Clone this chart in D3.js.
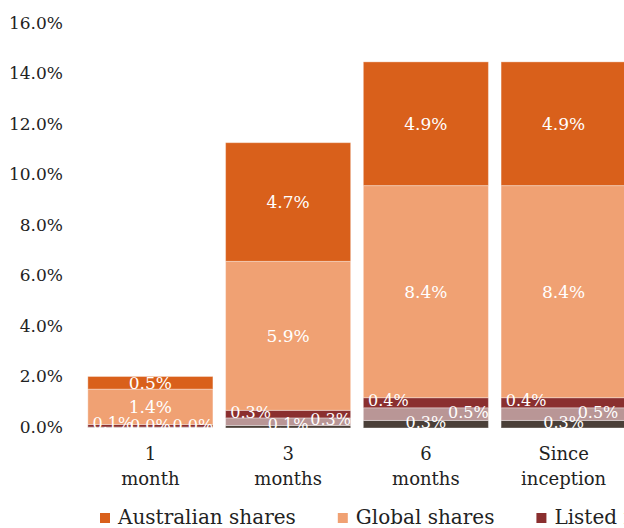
<!DOCTYPE html>
<html>
<head>
<meta charset="utf-8">
<script src="https://cdn.jsdelivr.net/npm/d3@7"></script>
<style>
  body { margin: 0; background: #fff; }
  svg { display: block; font-family: "DejaVu Serif", serif; }
</style>
</head>
<body>
<div id="chart"></div>
<script>
// periods, bottom-to-top series, values in %
const periods = ['1 month', '3 months', '6 months', 'Since inception']
const periodLines = [['1', 'month'], ['3', 'months'], ['6', 'months'], ['Since', 'inception']]
const seriesNames = ['Cash', 'Listed property', 'Listed infrastructure', 'Global shares', 'Australian shares']
const seriesColors = ['#4a3f38', '#b99696', '#8a2f2f', '#f0a173', '#d9601b']
const cash = [0.02, 0.1, 0.3, 0.3]
const listedProperty = [0.02, 0.3, 0.5, 0.5]
const listedInfra = [0.1, 0.3, 0.4, 0.4]
const globalShares = [1.4, 5.9, 8.4, 8.4]
const ausShares = [0.5, 4.7, 4.9, 4.9]
const yTicks = [0, 2, 4, 6, 8, 10, 12, 14, 16]
// legend runs in reverse stack order
const legendOrder = [4, 3, 2, 1, 0]

const width = 624
const height = 528

const seriesValues = [cash, listedProperty, listedInfra, globalShares, ausShares]
const rows = periods.map((p, i) => {
  const row = { period: p, lines: periodLines[i] }
  seriesNames.forEach((s, j) => { row[s] = seriesValues[j][i] })
  return row
})

const stacked = d3.stack().keys(seriesNames)(rows)

const svg = d3.select('#chart').append('svg')
    .attr('width', width)
    .attr('height', height)

const x = d3.scaleBand()
    .domain(periods)
    .range([81.5, 632.5])
    .paddingInner(0.092)
    .paddingOuter(0.046)

const y = d3.scaleLinear()
    .domain([0, 16])
    .range([428, 24])

// y tick labels, no axis line
svg.append('g').selectAll('text')
  .data(yTicks)
  .enter().append('text')
    .attr('x', 63)
    .attr('y', d => y(d) - 1)
    .attr('dy', '0.35em')
    .attr('text-anchor', 'end')
    .style('font-size', '17px')
    .style('fill', '#222')
    .text(d => d3.format('.1f')(d) + '%')

// bars
const layers = svg.append('g').selectAll('g')
  .data(stacked)
  .enter().append('g')
    .attr('fill', (d, i) => seriesColors[i])

layers.selectAll('rect')
  .data(d => d)
  .enter().append('rect')
    .attr('x', d => x(d.data.period))
    .attr('y', d => y(d[1]))
    .attr('width', x.bandwidth())
    .attr('height', d => y(d[0]) - y(d[1]))
    .attr('stroke', '#fff')
    .attr('stroke-opacity', 0.35)
    .attr('stroke-width', 1)

// value labels; the three thin series are spread across the bar
const labelX = [0.5, 0.84, 0.2, 0.5, 0.5]
const labelSize = [16, 16, 16, 17, 17]
stacked.forEach((layer, i) => {
  svg.append('g').selectAll('text')
    .data(layer)
    .enter().append('text')
      .attr('x', d => Math.min(x(d.data.period) + x.bandwidth() * labelX[i], width - 26))
      .attr('y', d => (y(d[0]) + y(d[1])) / 2 - (i < 3 ? 2 : 0))
      .attr('dy', '0.35em')
      .attr('text-anchor', 'middle')
      .style('font-size', labelSize[i] + 'px')
      .style('fill', '#fff')
      .text(d => d3.format('.1f')(d[1] - d[0]) + '%')
})

// category labels on two lines
const xl = svg.append('g').selectAll('text')
  .data(rows)
  .enter().append('text')
    .attr('text-anchor', 'middle')
    .style('font-size', '18px')
    .style('fill', '#222')

xl.selectAll('tspan')
  .data(d => d.lines.map(l => ({ l, cx: x(d.period) + x.bandwidth() / 2 })))
  .enter().append('tspan')
    .attr('x', d => d.cx)
    .attr('y', (d, i) => 460 + i * 25)
    .text(d => d.l)

// legend, flowing left to right; items past the right edge are not drawn
const legend = svg.append('g')
let lx = 100
legendOrder.forEach(i => {
  if (lx >= width) return
  legend.append('rect')
    .attr('x', lx)
    .attr('y', 513)
    .attr('width', 10)
    .attr('height', 10)
    .attr('fill', seriesColors[i])
  const t = legend.append('text')
    .attr('x', lx + 18)
    .attr('y', 524)
    .style('font-size', '20px')
    .style('fill', '#222')
    .text(seriesNames[i])
  lx += 18 + t.node().getComputedTextLength() + 42
})
</script>
</body>
</html>
